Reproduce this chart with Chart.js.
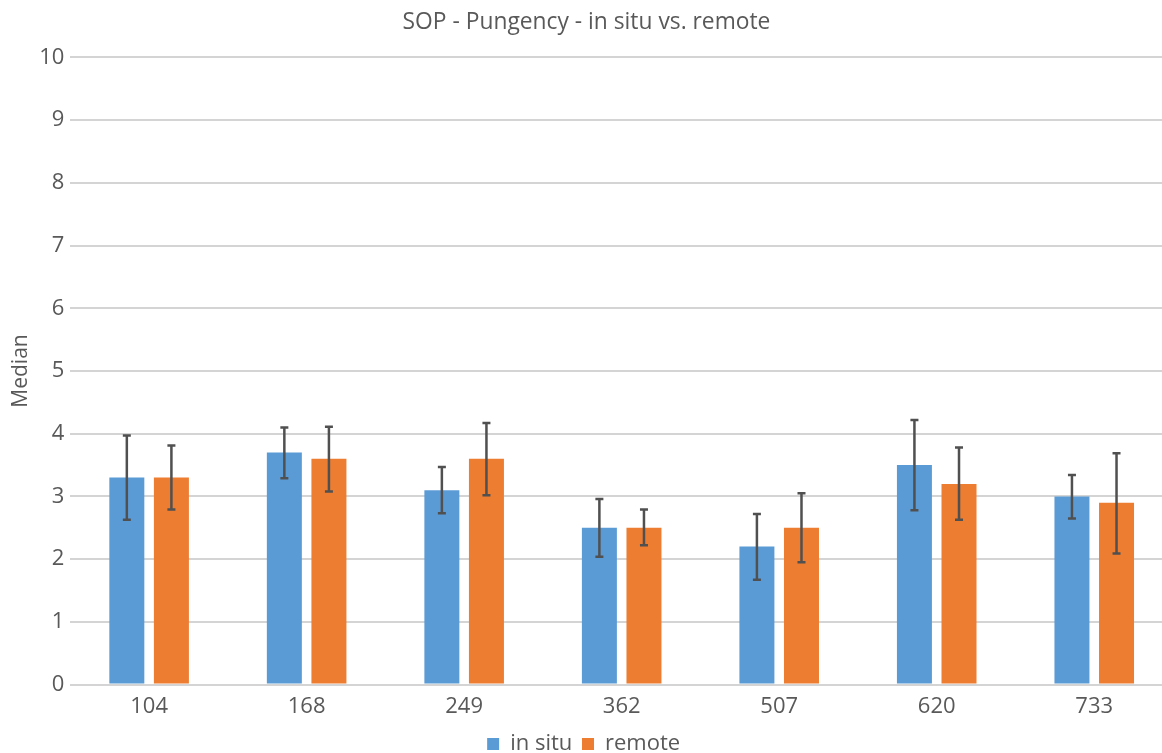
<!DOCTYPE html>
<html>
<head>
<meta charset="utf-8">
<script src="https://cdn.jsdelivr.net/npm/chart.js@4.4.1/dist/chart.umd.min.js"></script>
<style>
html,body{margin:0;padding:0;background:#fff;overflow:hidden;width:1162px;height:753px;}
#wrap{position:absolute;left:0;top:0;width:1174px;height:765px;}
</style>
</head>
<body>
<div id="wrap"><canvas id="c" width="1174" height="765"></canvas></div>
<script>
const categories = ["104", "168", "249", "362", "507", "620", "733"];
const inSitu = [3.3, 3.7, 3.1, 2.5, 2.2, 3.5, 3.0];
const inSituHigh = [3.97, 4.10, 3.47, 2.96, 2.72, 4.22, 3.34];
const inSituLow = [2.63, 3.29, 2.73, 2.04, 1.67, 2.78, 2.65];
const remote = [3.3, 3.6, 3.6, 2.5, 2.5, 3.2, 2.9];
const remoteHigh = [3.81, 4.11, 4.17, 2.79, 3.05, 3.78, 3.69];
const remoteLow = [2.79, 3.08, 3.02, 2.22, 1.95, 2.63, 2.09];
const yTicks = [0, 1, 2, 3, 4, 5, 6, 7, 8, 9, 10];

const FONT = "'Open Sans', sans-serif";
const TXT = "#595959";

const errorBars = {
  id: "errorBars",
  afterDatasetsDraw(chart) {
    const ctx = chart.ctx;
    const y = chart.scales.y;
    const sets = [[inSituHigh, inSituLow], [remoteHigh, remoteLow]];
    ctx.save();
    ctx.strokeStyle = "#505050";
    ctx.lineWidth = 2.5;
    sets.forEach((s, di) => {
      const meta = chart.getDatasetMeta(di);
      meta.data.forEach((bar, i) => {
        const x = bar.x;
        const yh = y.getPixelForValue(s[0][i]);
        const yl = y.getPixelForValue(s[1][i]);
        ctx.beginPath();
        ctx.moveTo(x, yh); ctx.lineTo(x, yl);
        ctx.moveTo(x - 4, yh); ctx.lineTo(x + 4, yh);
        ctx.moveTo(x - 4, yl); ctx.lineTo(x + 4, yl);
        ctx.stroke();
      });
    });
    ctx.restore();
  }
};

new Chart(document.getElementById("c"), {
  type: "bar",
  data: {
    labels: categories,
    datasets: [
      { label: "in situ", data: inSitu, backgroundColor: "#5b9bd5", borderWidth: 0 },
      { label: "remote", data: remote, backgroundColor: "#ed7d31", borderWidth: 0 }
    ]
  },
  options: {
    responsive: false,
    animation: false,
    categoryPercentage: 0.566,
    barPercentage: 0.785,
    layout: { padding: { left: 0, right: 1, top: 0, bottom: 0 } },
    plugins: {
      title: {
        display: true,
        text: "SOP - Pungency - in situ vs. remote",
        color: TXT,
        font: { family: FONT, size: 22.8, weight: "normal", lineHeight: 1.2 },
        padding: { top: 9, bottom: 21 }
      },
      legend: {
        position: "bottom",
        labels: {
          color: TXT,
          font: { family: FONT, size: 22 },
          boxWidth: 12,
          boxHeight: 12,
          padding: 4,
          generateLabels(chart) {
            const items = Chart.defaults.plugins.legend.labels.generateLabels(chart);
            items.forEach(it => { it.text = it.text + " "; it.lineWidth = 0; });
            return items;
          }
        }
      },
      tooltip: { enabled: false }
    },
    scales: {
      x: {
        grid: { display: false, drawTicks: false },
        border: { display: false },
        ticks: { color: TXT, font: { family: FONT, size: 22 }, padding: 9 }
      },
      y: {
        min: 0,
        max: 10,
        afterBuildTicks(axis) { axis.ticks = yTicks.map(v => ({ value: v })); },
        grid: { color: "#d4d4d4", lineWidth: 2, drawTicks: false },
        border: { display: false },
        ticks: { color: TXT, font: { family: FONT, size: 22 }, padding: 6 },
        title: { display: true, text: "Median", color: TXT, font: { family: FONT, size: 21, lineHeight: 1.2 }, padding: { top: 8, bottom: 0 } }
      }
    }
  },
  plugins: [errorBars]
});
</script>
</body>
</html>
